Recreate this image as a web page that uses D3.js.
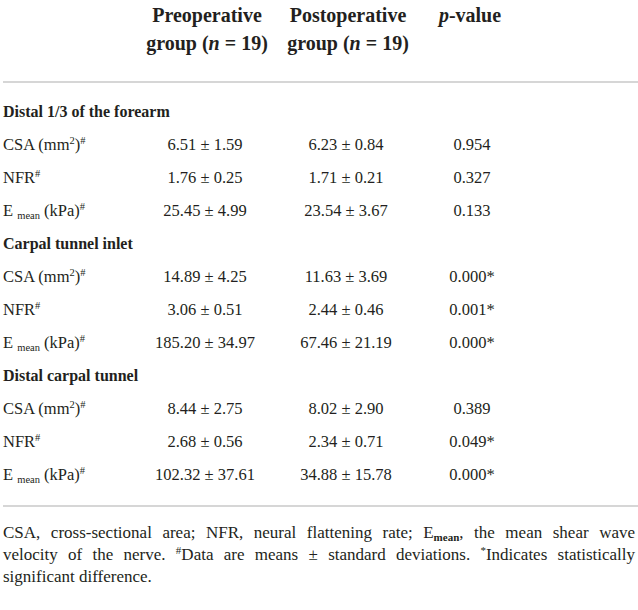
<!DOCTYPE html>
<html>
<head>
<meta charset="utf-8">
<script src="https://cdn.jsdelivr.net/npm/d3@7"></script>
<style>
  html, body { margin: 0; padding: 0; background: #fff; }
  svg { display: block; }
</style>
</head>
<body>
<svg id="chart" width="638" height="610"></svg>
<script>
// ---- data ----
const columns = ["Preoperative group (n = 19)", "Postoperative group (n = 19)", "p-value"];
const sections = ["Distal 1/3 of the forearm", "Carpal tunnel inlet", "Distal carpal tunnel"];
const measures = ["CSA", "NFR", "Emean"];
const preValues = [
  ["6.51 ± 1.59", "1.76 ± 0.25", "25.45 ± 4.99"],
  ["14.89 ± 4.25", "3.06 ± 0.51", "185.20 ± 34.97"],
  ["8.44 ± 2.75", "2.68 ± 0.56", "102.32 ± 37.61"]
];
const postValues = [
  ["6.23 ± 0.84", "1.71 ± 0.21", "23.54 ± 3.67"],
  ["11.63 ± 3.69", "2.44 ± 0.46", "67.46 ± 21.19"],
  ["8.02 ± 2.90", "2.34 ± 0.71", "34.88 ± 15.78"]
];
const pValues = [
  ["0.954", "0.327", "0.133"],
  ["0.000*", "0.001*", "0.000*"],
  ["0.389", "0.049*", "0.000*"]
];
const footnoteLines = [
  "CSA, cross-sectional area; NFR, neural flattening rate; E{mean}, the mean shear wave",
  "velocity of the nerve. ^#Data are means ± standard deviations. ^*Indicates statistically",
  "significant difference."
];

// ---- layout ----
const W = 638;
const svg = d3.select("#chart");
const FONT = "'Liberation Serif', 'Times New Roman', serif";
const textColor = "#231f20";

const rows = [];
sections.forEach((s, si) => {
  rows.push({type: "section", label: s});
  measures.forEach((m, mi) => {
    rows.push({type: "data", measure: m, pre: preValues[si][mi], post: postValues[si][mi], p: pValues[si][mi]});
  });
});

const y = d3.scalePoint().domain(d3.range(rows.length)).range([117, 480]);
const x = d3.scaleOrdinal().domain(["label", "pre", "post", "p"]).range([3, 205, 346, 472]);

// header
const hdr = svg.append("g").attr("font-family", FONT).attr("font-weight", "bold")
  .attr("font-size", 20).attr("fill", textColor).attr("text-anchor", "middle");

function headerCol(cx, line1) {
  hdr.append("text").attr("x", cx).attr("y", 22).text(line1);
  const t = hdr.append("text").attr("x", cx).attr("y", 50);
  t.append("tspan").text("group (");
  t.append("tspan").attr("font-style", "italic").text("n");
  t.append("tspan").text(" = 19)");
}
headerCol(x("pre") + 2, columns[0].split(" ")[0]);
headerCol(x("post") + 2, columns[1].split(" ")[0]);
{
  const t = hdr.append("text").attr("x", x("p") - 2).attr("y", 22);
  t.append("tspan").attr("font-style", "italic").text("p");
  t.append("tspan").text("-value");
}

// rules
[82, 506].forEach(yy => {
  svg.append("line").attr("x1", 3).attr("x2", W).attr("y1", yy).attr("y2", yy)
    .attr("stroke", "#c8c8c8").attr("stroke-width", 1.5);
});

// body
const body = svg.append("g").attr("font-family", FONT).attr("fill", textColor);
rows.forEach((r, i) => {
  const yy = y(i);
  if (r.type === "section") {
    body.append("text").attr("x", x("label")).attr("y", yy)
      .attr("font-weight", "bold").attr("font-size", 16).text(r.label);
  } else {
    const t = body.append("text").attr("x", x("label")).attr("y", yy).attr("font-size", 16.5);
    if (r.measure === "CSA") {
      t.append("tspan").text("CSA (mm");
      t.append("tspan").attr("font-size", 10.5).attr("dy", -6).text("2");
      t.append("tspan").attr("dy", 6).text(")");
      t.append("tspan").attr("font-size", 10.5).attr("dy", -6).text("#");
    } else if (r.measure === "NFR") {
      t.append("tspan").text("NFR");
      t.append("tspan").attr("font-size", 10.5).attr("dy", -6).text("#");
    } else {
      t.append("tspan").text("E ");
      t.append("tspan").attr("font-size", 10.5).attr("dy", 3).text("mean");
      t.append("tspan").attr("dy", -3).text(" (kPa)");
      t.append("tspan").attr("font-size", 10.5).attr("dy", -6).text("#");
    }
    ["pre", "post"].forEach(k => {
      body.append("text").attr("x", x(k)).attr("y", yy).attr("font-size", 16.5)
        .attr("text-anchor", "middle").text(r[k]);
    });
    body.append("text").attr("x", x("p")).attr("y", yy).attr("font-size", 16.5)
      .attr("text-anchor", "middle").text(r.p);
  }
});

// footnote, justified
const fnSize = 17;
const fnLeft = 3, fnRight = 635;
const fn = svg.append("g").attr("font-family", FONT).attr("font-size", fnSize).attr("fill", textColor);
const fnY = [538, 560, 582];
function drawWord(g, word, yy) {
  const t = g.append("text").attr("x", 0).attr("y", yy);
  const re = /(\{[^}]+\})|(\^.)|([^{^]+)/g;
  let m, pendingDy = 0;
  while ((m = re.exec(word)) !== null) {
    if (m[1]) {
      t.append("tspan").attr("font-size", 11).attr("font-weight", "bold")
        .attr("dy", 3 + pendingDy).text(m[1].slice(1, -1));
      pendingDy = -3;
    } else if (m[2]) {
      t.append("tspan").attr("font-size", 11).attr("dy", -6 + pendingDy).text(m[2].slice(1));
      pendingDy = 6;
    } else {
      t.append("tspan").attr("dy", pendingDy).text(m[3]);
      pendingDy = 0;
    }
  }
  return t;
}
footnoteLines.forEach((line, li) => {
  const words = line.split(" ");
  const last = li === footnoteLines.length - 1;
  const nodes = words.map(w => drawWord(fn, w, fnY[li]));
  const widths = nodes.map(n => n.node().getComputedTextLength());
  const total = d3.sum(widths);
  const spaceW = fnSize * 0.25;
  const gap = last ? spaceW : (fnRight - fnLeft - total) / (words.length - 1);
  let cx = fnLeft;
  nodes.forEach((n, k) => { n.attr("x", cx); cx += widths[k] + gap; });
});
</script>
</body>
</html>
